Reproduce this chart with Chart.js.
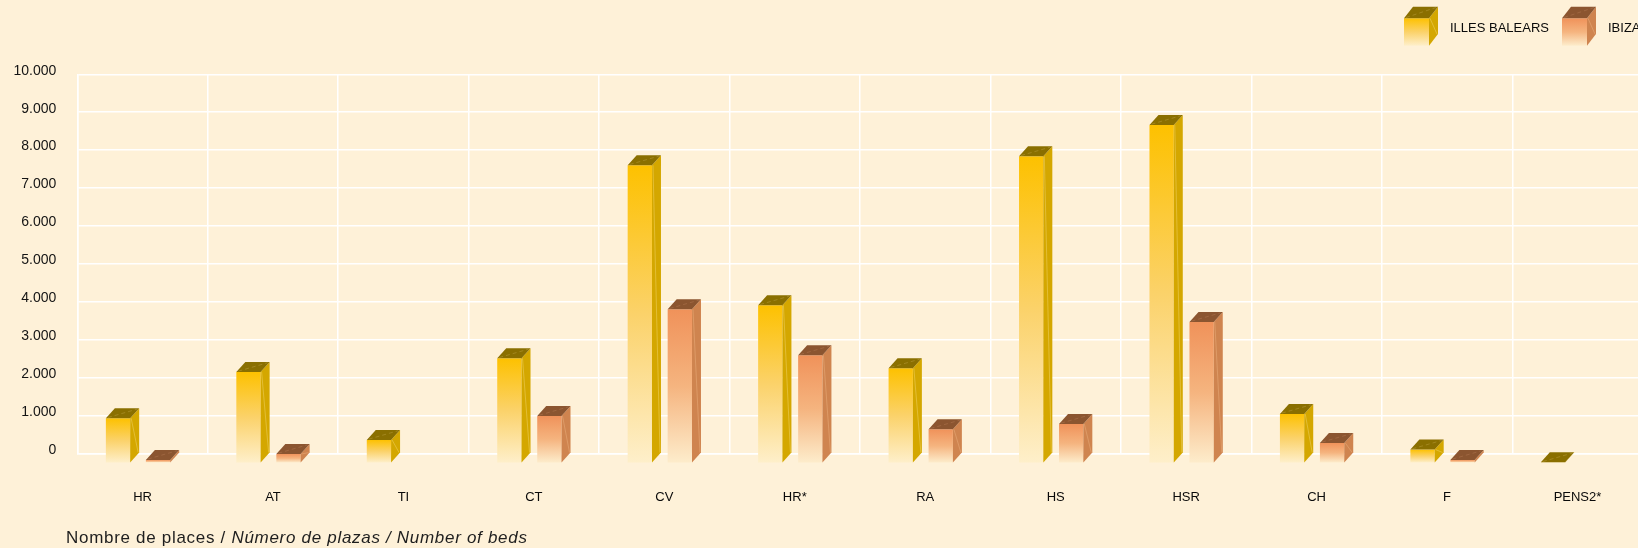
<!DOCTYPE html>
<html>
<head>
<meta charset="utf-8">
<script src="https://cdn.jsdelivr.net/npm/chart.js@4.4.1/dist/chart.umd.min.js"></script>
<style>
  html, body { margin: 0; padding: 0; background: #FEF1D8; }
  #wrap { position: relative; width: 1638px; height: 548px; overflow: hidden; background: #FEF1D8; }
  #c { position: absolute; left: 0; top: 0; }
  #note {
    position: absolute; left: 66px; top: 528px;
    font-family: "Liberation Sans", Arial, Helvetica, sans-serif;
    font-size: 17px; letter-spacing: 0.7px; color: #1e1e1e; white-space: nowrap; line-height: 20px;
  }
  #note i { font-style: italic; }
</style>
</head>
<body>
<div id="wrap">
  <canvas id="c" width="1700" height="548"></canvas>
  <div id="note">Nombre de places / <i>Número de plazas / Number of beds</i></div>
</div>
<script>
// Accommodation types
const categories = ['HR', 'AT', 'TI', 'CT', 'CV', 'HR*', 'RA', 'HS', 'HSR', 'CH', 'F', 'PENS2*'];
// Number of beds per type
const illesBalears = [1187, 2410, 616, 2770, 7863, 4169, 2507, 8100, 8927, 1303, 361, 25];
const ibiza = [90, 245, null, 1248, 4063, 2850, 897, 1038, 3729, 538, 90, null];
const seriesNames = ['ILLES BALEARS', 'IBIZA'];
const yTickLabels = ['0', '1.000', '2.000', '3.000', '4.000', '5.000', '6.000', '7.000', '8.000', '9.000', '10.000'];

const FONT = '"Liberation Sans", Arial, Helvetica, sans-serif';

// Face colours for each series: front gradient, side and top
const faces = [
  { front: ['#FDC100', '#FBD26A', '#FEEFCA'], side: '#D4A700', top: '#8A6F00', hl: 'rgba(250,225,140,0.55)', thl: 'rgba(200,170,80,0.55)' },
  { front: ['#F0925A', '#F5B47F', '#FDECCB'], side: '#CF844F', top: '#8B5530', hl: 'rgba(245,190,140,0.55)', thl: 'rgba(190,130,90,0.55)' }
];
const DX = 9, DY = 10;

function drawBox(ctx, x0f, yTopFront, w, yBottomFront, dx, dy, f) {
  const x1f = x0f + w;
  // front face
  const g = ctx.createLinearGradient(0, yTopFront, 0, yBottomFront);
  g.addColorStop(0, f.front[0]);
  g.addColorStop(0.5, f.front[1]);
  g.addColorStop(1, f.front[2]);
  ctx.fillStyle = g;
  ctx.fillRect(x0f, yTopFront, w, yBottomFront - yTopFront);
  // side face
  ctx.fillStyle = f.side;
  ctx.beginPath();
  ctx.moveTo(x1f, yTopFront);
  ctx.lineTo(x1f + dx, yTopFront - dy);
  ctx.lineTo(x1f + dx, yBottomFront - dy);
  ctx.lineTo(x1f, yBottomFront);
  ctx.closePath();
  ctx.fill();
  // top face
  ctx.fillStyle = f.top;
  ctx.beginPath();
  ctx.moveTo(x0f, yTopFront);
  ctx.lineTo(x1f, yTopFront);
  ctx.lineTo(x1f + dx, yTopFront - dy);
  ctx.lineTo(x0f + dx, yTopFront - dy);
  ctx.closePath();
  ctx.fill();
  // soft highlights across side and top
  ctx.save();
  ctx.lineWidth = 0.7;
  if (yBottomFront - yTopFront > 6) {
    ctx.strokeStyle = f.hl;
    ctx.beginPath();
    ctx.moveTo(x1f + 1, yTopFront);
    ctx.lineTo(x1f + dx - 1, yBottomFront - dy);
    ctx.stroke();
  }
  ctx.strokeStyle = f.thl;
  ctx.setLineDash([4, 3]);
  ctx.beginPath();
  ctx.moveTo(x0f + 2, yTopFront - 0.8);
  ctx.lineTo(x1f + dx - 2, yTopFront - dy + 0.8);
  ctx.stroke();
  ctx.restore();
}

const box3d = {
  id: 'box3d',
  afterDatasetsDraw(chart) {
    const ctx = chart.ctx;
    chart.data.datasets.forEach((ds, i) => {
      const meta = chart.getDatasetMeta(i);
      meta.data.forEach((el, j) => {
        if (ds.data[j] == null) return;
        const p = el.getProps(['x', 'y', 'base', 'width'], true);
        if (!isFinite(p.y)) return;
        const x0f = p.x - p.width / 2 - DX / 2;
        drawBox(ctx, x0f, p.y + DY, p.width, p.base + DY, DX, DY, faces[i]);
      });
    });
  }
};

const cubeLegend = {
  id: 'cubeLegend',
  afterDraw(chart) {
    const ctx = chart.ctx;
    const items = [{ x: 1404, tx: 1450 }, { x: 1562, tx: 1608 }];
    chart.data.datasets.forEach((ds, i) => {
      const it = items[i];
      drawBox(ctx, it.x, 18.3, 25, 45.7, 9, 11.6, faces[i]);
      ctx.save();
      ctx.fillStyle = '#0a0a0a';
      ctx.font = '13px ' + FONT;
      ctx.textBaseline = 'middle';
      ctx.textAlign = 'left';
      ctx.fillText(ds.label, it.tx, 28);
      ctx.restore();
    });
  }
};

new Chart(document.getElementById('c'), {
  type: 'bar',
  data: {
    labels: categories,
    datasets: [
      { label: seriesNames[0], data: illesBalears, backgroundColor: 'rgba(0,0,0,0)', borderWidth: 0 },
      { label: seriesNames[1], data: ibiza, backgroundColor: 'rgba(0,0,0,0)', borderWidth: 0 }
    ]
  },
  options: {
    responsive: false,
    animation: false,
    devicePixelRatio: 1,
    categoryPercentage: 0.6133,
    barPercentage: 0.6075,
    layout: { padding: { left: 0, top: 74.3, right: 57.3, bottom: 0 } },
    plugins: { legend: { display: false }, tooltip: { enabled: false } },
    scales: {
      x: {
        grid: { color: '#FFFFFF', lineWidth: 1.5, drawTicks: false, offset: true },
        border: { color: '#FFFFFF', width: 1.5 },
        ticks: { color: '#0a0a0a', font: { family: FONT, size: 13 }, padding: 36, maxRotation: 0, autoSkip: false },
        afterFit(s) { s.height = 94.7; }
      },
      y: {
        min: 0, max: 10000,
        grid: { color: '#FFFFFF', lineWidth: 1.5, drawTicks: false },
        border: { color: '#FFFFFF', width: 1.5 },
        ticks: {
          stepSize: 1000, color: '#141414', padding: 21, labelOffset: -3.5,
          font: { family: FONT, size: 14 },
          callback: (v, i) => yTickLabels[i]
        },
        afterFit(s) { s.width = 77.3; }
      }
    }
  },
  plugins: [box3d, cubeLegend]
});
</script>
</body>
</html>
